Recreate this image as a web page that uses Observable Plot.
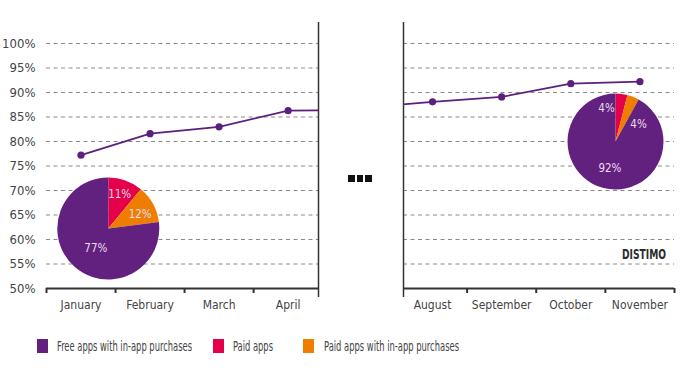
<!DOCTYPE html>
<html><head><meta charset="utf-8">
<script src="https://cdn.jsdelivr.net/npm/d3@7"></script>
<script src="https://cdn.jsdelivr.net/npm/@observablehq/plot@0.6"></script>
<style>
body{margin:0;background:#fff;}
#wrap{position:relative;width:700px;height:371px;overflow:hidden;font-family:"DejaVu Sans Condensed",sans-serif;color:#444;}
#left,#right{position:absolute;top:0}
#left{left:0} #right{left:350px}
.dot3{position:absolute;top:175px;width:6.5px;height:6.5px;background:#111;}
.sw{position:absolute;top:339px;width:11px;height:14px;}
.lt{position:absolute;top:337px;font-size:13.5px;line-height:18px;color:#444;white-space:nowrap;transform-origin:0 50%;}
</style></head><body>
<div id="wrap">
  <div id="left"></div>
  <div id="right"></div>
  <div class="dot3" style="left:348px"></div>
  <div class="dot3" style="left:356.5px"></div>
  <div class="dot3" style="left:365px"></div>
  <div id="legend"></div>
</div>
<script>
// ---- data ----
const monthNames = ["", "January","February","March","April","May","June","July","August","September","October","November","December"];
const leftMonths = [1, 2, 3, 4, 5];            // May only continues the line past the panel edge
const leftShare  = [77.2, 81.6, 83.0, 86.3, 86.4];
const rightMonths = [7, 8, 9, 10, 11];          // July only continues the line into the panel
const rightShare  = [86.9, 88.1, 89.1, 91.8, 92.2];
const leftLabeled = [1, 2, 3, 4];
const rightLabeled = [8, 9, 10, 11];
const yTicks = [50, 55, 60, 65, 70, 75, 80, 85, 90, 95, 100];
const categories = ["Free apps with in-app purchases", "Paid apps", "Paid apps with in-app purchases"];
const categoryColors = ["#62217f", "#e4004b", "#ef7d00"];
const pieJanuary = [77, 11, 12];
const pieNovember = [92, 4, 4];

// ---- layout ----
const font = '"DejaVu Sans Condensed",sans-serif';
const lineColor = "#5c1f7e";
const pieLayoutJan = {cx: 108.3, cy: 228.5, r: 51, labels: [{a: 213, rf: 0.45}, {a: 18, rf: 0.72}, {a: 65, rf: 0.69}]};
const pieLayoutNov = {cx: 265.5, cy: 141.6, r: 48, labels: [{a: 192, rf: 0.56}, {a: -15, rf: 0.72}, {a: 52, rf: 0.61}]};

function pieMark(shares, L) {
  return () => {
    const g = d3.create("svg:g").attr("transform", `translate(${L.cx},${L.cy})`);
    const items = [1, 2, 0].map(i => ({i, v: shares[i]}));
    const arcs = d3.pie().sort(null).value(d => d.v)(items);
    const arc = d3.arc().innerRadius(0).outerRadius(L.r);
    g.selectAll("path").data(arcs).join("path")
      .attr("d", arc).attr("fill", d => categoryColors[d.data.i]);
    g.selectAll("text").data(arcs).join("text")
      .attr("x", d => Math.sin(L.labels[d.data.i].a * Math.PI / 180) * L.labels[d.data.i].rf * L.r)
      .attr("y", d => -Math.cos(L.labels[d.data.i].a * Math.PI / 180) * L.labels[d.data.i].rf * L.r)
      .attr("dy", "0.36em").attr("text-anchor", "middle")
      .attr("fill", "#ecdcef").attr("font-size", 11.5).attr("font-family", font)
      .text(d => d.data.v + "%");
    return g.node();
  };
}

function logoMark() {
  const g = d3.create("svg:g");
  g.append("text").attr("x", 272).attr("y", 258.5).attr("text-anchor", "start")
    .attr("textLength", 44).attr("lengthAdjust", "spacingAndGlyphs")
    .attr("font-family", '"DejaVu Sans Condensed",sans-serif').attr("font-weight", "bold")
    .attr("font-size", 14.5).attr("fill", "#2b2b2b").text("DISTIMO");
  return g.node();
}

const leftData = leftMonths.map((m, i) => ({m, v: leftShare[i]}));
const rightData = rightMonths.map((m, i) => ({m, v: rightShare[i]}));

const common = {
  height: 320, marginTop: 43, marginBottom: 32,
  style: {fontFamily: font, fontSize: "12px", color: "#444", background: "transparent"}
};

const left = Plot.plot({
  ...common, width: 350, marginLeft: 46, marginRight: 32,
  x: {domain: [0.5, 4.44], label: null},
  y: {domain: [50, 100], label: null},
  marks: [
    Plot.ruleY(yTicks.filter(t => t > 50), {stroke: "#8a8a8a", strokeDasharray: "4,3.5", strokeWidth: 1}),
    Plot.axisY(yTicks, {tickSize: 0, tickPadding: 11, tickFormat: d => d + "%", fontSize: 13, label: null}),
    Plot.ruleX([4.44], {stroke: "#333", strokeWidth: 1.5, insetTop: -21, insetBottom: -9}),
    Plot.ruleY([50], {stroke: "#333", strokeWidth: 2}),
    Plot.axisX([0.5, 1.5, 2.5, 3.5], {tickSize: 5, tickFormat: () => "", stroke: "#333", strokeWidth: 2, label: null}),
    Plot.axisX(leftLabeled, {tickSize: 0, tickPadding: 12, tickFormat: d => monthNames[d], fontSize: 12, label: null}),
    pieMark(pieJanuary, pieLayoutJan),
    Plot.line(leftData, {x: "m", y: "v", stroke: lineColor, strokeWidth: 1.8, clip: true}),
    Plot.dot(leftData.filter(d => leftLabeled.includes(d.m)), {x: "m", y: "v", r: 3.6, fill: lineColor, clip: true})
  ]
});
document.getElementById("left").append(left);

const right = Plot.plot({
  ...common, width: 350, marginLeft: 53, marginRight: 26,
  x: {domain: [7.58, 11.5], label: null},
  y: {domain: [50, 100], label: null, axis: null},
  marks: [
    Plot.ruleY(yTicks.filter(t => t > 50), {stroke: "#8a8a8a", strokeDasharray: "4,3.5", strokeWidth: 1}),
    Plot.ruleX([7.58], {stroke: "#333", strokeWidth: 1.5, insetTop: -21, insetBottom: -9}),
    Plot.ruleY([50], {stroke: "#333", strokeWidth: 2}),
    Plot.axisX([8.5, 9.5, 10.5, 11.5], {tickSize: 5, tickFormat: () => "", stroke: "#333", strokeWidth: 2, label: null}),
    Plot.axisX(rightLabeled, {tickSize: 0, tickPadding: 12, tickFormat: d => monthNames[d], fontSize: 12, label: null}),
    Plot.line(rightData, {x: "m", y: "v", stroke: lineColor, strokeWidth: 1.8, clip: true}),
    Plot.dot(rightData.filter(d => rightLabeled.includes(d.m)), {x: "m", y: "v", r: 3.6, fill: lineColor, clip: true}),
    pieMark(pieNovember, pieLayoutNov),
    logoMark
  ]
});
document.getElementById("right").append(right);

// legend
const legendX = [[37, 57, 135], [213, 233, 40], [303, 324, 135]];
const legend = document.getElementById("legend");
categories.forEach((c, i) => {
  const sw = document.createElement("div");
  sw.className = "sw"; sw.style.left = legendX[i][0] + "px"; sw.style.background = categoryColors[i];
  const t = document.createElement("div");
  t.className = "lt"; t.style.left = legendX[i][1] + "px"; t.textContent = c;
  legend.append(sw, t);
  const w = t.getBoundingClientRect().width;
  if (w > 0) t.style.transform = `scaleX(${legendX[i][2] / w})`;
});
</script>
</body></html>
